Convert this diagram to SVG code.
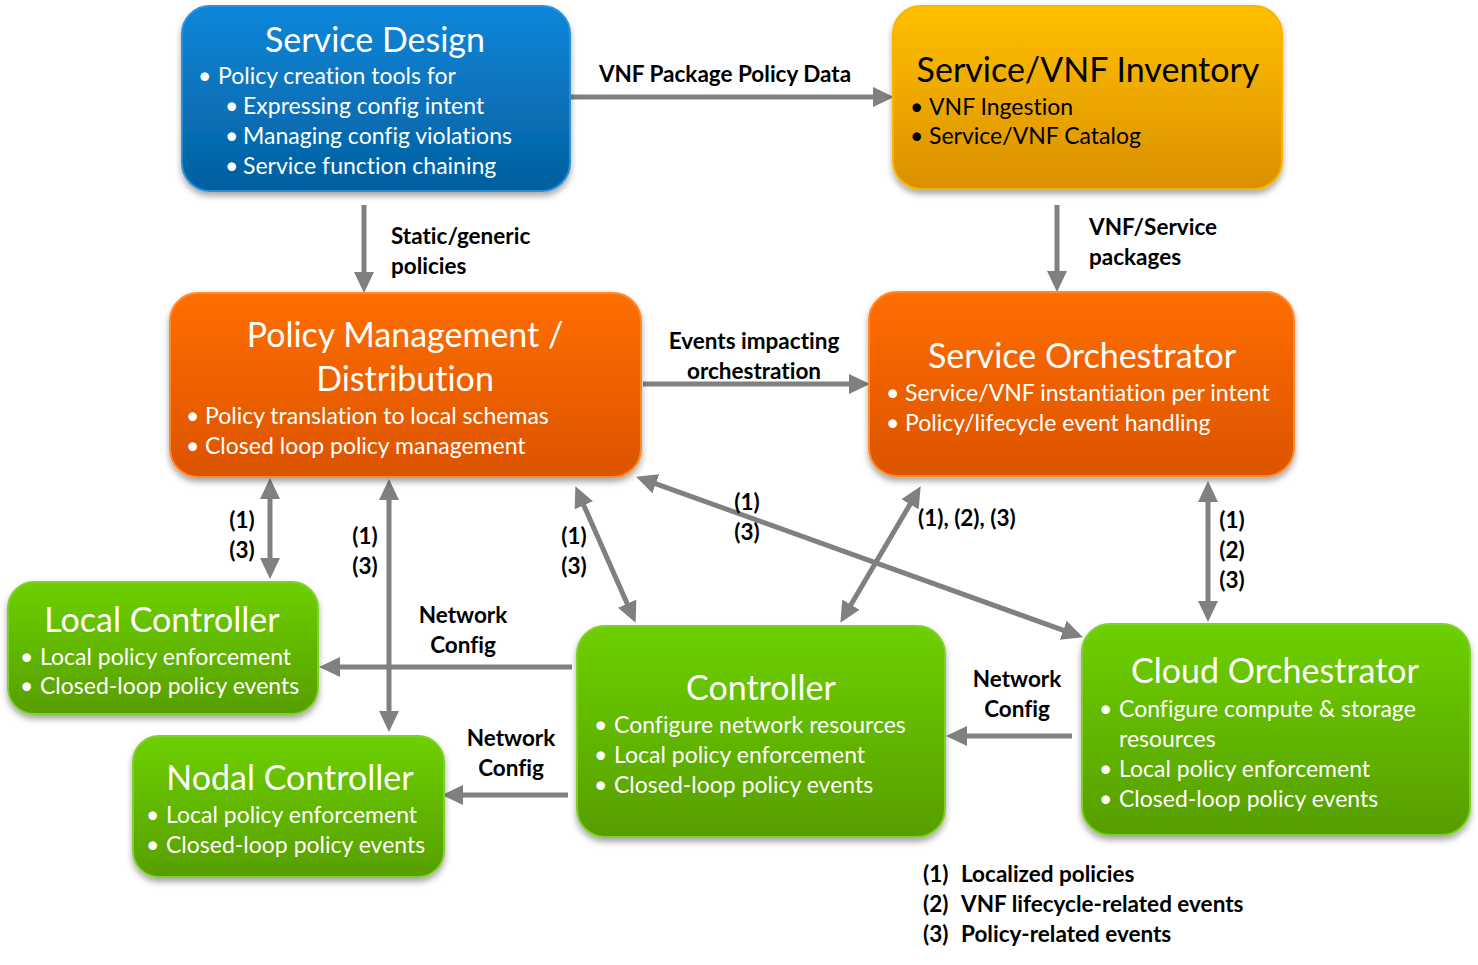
<svg xmlns="http://www.w3.org/2000/svg" width="1478" height="965" viewBox="0 0 1478 965">
<defs>
<linearGradient id="gBlue" x1="0" y1="0" x2="0" y2="1"><stop offset="0" stop-color="#0a86d9"/><stop offset="1" stop-color="#055f9e"/></linearGradient>
<linearGradient id="gGold" x1="0" y1="0" x2="0" y2="1"><stop offset="0" stop-color="#ffc000"/><stop offset="1" stop-color="#da9000"/></linearGradient>
<linearGradient id="gOrange" x1="0" y1="0" x2="0" y2="1"><stop offset="0" stop-color="#ff6e00"/><stop offset="1" stop-color="#dc5300"/></linearGradient>
<linearGradient id="gGreen" x1="0" y1="0" x2="0" y2="1"><stop offset="0" stop-color="#6dd005"/><stop offset="1" stop-color="#579e04"/></linearGradient>
<filter id="shadow" x="-10%" y="-10%" width="120%" height="130%"><feDropShadow dx="0" dy="4" stdDeviation="3" flood-color="#000" flood-opacity="0.35"/></filter>
<marker id="ah" markerUnits="userSpaceOnUse" markerWidth="22" markerHeight="22" refX="10" refY="10" orient="auto-start-reverse" viewBox="0 0 22 20"><path d="M0,0 L21,10 L0,20 z" fill="#808080"/></marker>
<style>
text{font-variant-ligatures:none}
.box{filter:url(#shadow);stroke-width:2}
.blue{fill:url(#gBlue);stroke:#2a90dc}
.gold{fill:url(#gGold);stroke:#f7b500}
.orange{fill:url(#gOrange);stroke:#ff8a2e}
.green{fill:url(#gGreen);stroke:#7fd02a}
.t{font-family:Lato,"Liberation Sans",sans-serif;font-size:34px;fill:#fff;text-anchor:middle}
.b{font-family:Lato,"Liberation Sans",sans-serif;font-size:23px;fill:#fff}
.dk{fill:#000}
.l{font-family:Lato,"Liberation Sans",sans-serif;font-size:22.5px;font-weight:bold;fill:#000}
.c{text-anchor:middle}
.conn{stroke:#808080;stroke-width:5;fill:none}
</style>
</defs>
<rect width="1478" height="965" fill="#fff"/>

<g id="connectors">
<path class="conn" d="M571 97 L883 97" marker-end="url(#ah)"/>
<path class="conn" d="M364 205 L364 282" marker-end="url(#ah)"/>
<path class="conn" d="M1057 205 L1057 281" marker-end="url(#ah)"/>
<path class="conn" d="M643 384 L859 384" marker-end="url(#ah)"/>
<path class="conn" d="M270 489 L270 568" marker-start="url(#ah)" marker-end="url(#ah)"/>
<path class="conn" d="M389 490 L389 721" marker-start="url(#ah)" marker-end="url(#ah)"/>
<path class="conn" d="M579.8 496.2 L631.2 612.8" marker-start="url(#ah)" marker-end="url(#ah)"/>
<path class="conn" d="M646.4 480.4 L1072.6 633.6" marker-start="url(#ah)" marker-end="url(#ah)"/>
<path class="conn" d="M915.1 495.7 L845.9 613.3" marker-start="url(#ah)" marker-end="url(#ah)"/>
<path class="conn" d="M1208 492 L1208 611" marker-start="url(#ah)" marker-end="url(#ah)"/>
<path class="conn" d="M572 667 L330 667" marker-end="url(#ah)"/>
<path class="conn" d="M568 795 L453 795" marker-end="url(#ah)"/>
<path class="conn" d="M1072 736 L957 736" marker-end="url(#ah)"/>
<text class="l c" x="725" y="82">VNF Package Policy Data</text>
<text class="l" x="391" y="244">Static/generic</text>
<text class="l" x="391" y="274">policies</text>
<text class="l" x="1089" y="235">VNF/Service</text>
<text class="l" x="1089" y="265">packages</text>
<text class="l c" x="754" y="349">Events impacting</text>
<text class="l c" x="754" y="379">orchestration</text>
<text class="l c" x="242" y="528">(1)</text>
<text class="l c" x="242" y="558">(3)</text>
<text class="l c" x="365" y="544">(1)</text>
<text class="l c" x="365" y="574">(3)</text>
<text class="l c" x="574" y="544">(1)</text>
<text class="l c" x="574" y="574">(3)</text>
<text class="l c" x="747" y="510">(1)</text>
<text class="l c" x="747" y="540">(3)</text>
<text class="l" x="918" y="526">(1), (2), (3)</text>
<text class="l c" x="1232" y="528">(1)</text>
<text class="l c" x="1232" y="558">(2)</text>
<text class="l c" x="1232" y="588">(3)</text>
<text class="l c" x="463" y="623">Network</text>
<text class="l c" x="463" y="653">Config</text>
<text class="l c" x="511" y="746">Network</text>
<text class="l c" x="511" y="776">Config</text>
<text class="l c" x="1017" y="687">Network</text>
<text class="l c" x="1017" y="717">Config</text>
</g>

<g id="service-design">
<rect class="box blue" x="182" y="6" width="388" height="185" rx="28"/>
<text class="t" x="375" y="52">Service Design</text>
<text class="b" x="198" y="84">•</text><text class="b" x="218" y="84">Policy creation tools for</text>
<text class="b" x="225" y="114">•</text><text class="b" x="243" y="114">Expressing config intent</text>
<text class="b" x="225" y="144">•</text><text class="b" x="243" y="144">Managing config violations</text>
<text class="b" x="225" y="174">•</text><text class="b" x="243" y="174">Service function chaining</text>
</g>

<g id="inventory">
<rect class="box gold" x="893" y="6" width="389" height="183" rx="28"/>
<text class="t dk" x="1088" y="82">Service/VNF Inventory</text>
<text class="b dk" x="910" y="115">•</text><text class="b dk" x="929" y="115">VNF Ingestion</text>
<text class="b dk" x="910" y="144">•</text><text class="b dk" x="929" y="144">Service/VNF Catalog</text>
</g>

<g id="policy-management">
<rect class="box orange" x="170" y="293" width="471" height="184" rx="28"/>
<text class="t" x="405" y="347">Policy Management /</text>
<text class="t" x="405" y="391">Distribution</text>
<text class="b" x="186" y="424">•</text><text class="b" x="205" y="424">Policy translation to local schemas</text>
<text class="b" x="186" y="454">•</text><text class="b" x="205" y="454">Closed loop policy management</text>
</g>

<g id="service-orchestrator">
<rect class="box orange" x="869" y="292" width="425" height="184" rx="28"/>
<text class="t" x="1082" y="368">Service Orchestrator</text>
<text class="b" x="886" y="401">•</text><text class="b" x="905" y="401">Service/VNF instantiation per intent</text>
<text class="b" x="886" y="431">•</text><text class="b" x="905" y="431">Policy/lifecycle event handling</text>
</g>

<g id="local-controller">
<rect class="box green" x="8" y="582" width="310" height="132" rx="26"/>
<text class="t" x="162" y="632">Local Controller</text>
<text class="b" x="20" y="665">•</text><text class="b" x="40" y="665">Local policy enforcement</text>
<text class="b" x="20" y="694">•</text><text class="b" x="40" y="694">Closed-loop policy events</text>
</g>

<g id="nodal-controller">
<rect class="box green" x="133" y="736" width="311" height="141" rx="26"/>
<text class="t" x="290" y="790">Nodal Controller</text>
<text class="b" x="146" y="823">•</text><text class="b" x="166" y="823">Local policy enforcement</text>
<text class="b" x="146" y="853">•</text><text class="b" x="166" y="853">Closed-loop policy events</text>
</g>

<g id="controller">
<rect class="box green" x="577" y="626" width="368" height="211" rx="28"/>
<text class="t" x="761" y="700">Controller</text>
<text class="b" x="594" y="733">•</text><text class="b" x="614" y="733">Configure network resources</text>
<text class="b" x="594" y="763">•</text><text class="b" x="614" y="763">Local policy enforcement</text>
<text class="b" x="594" y="793">•</text><text class="b" x="614" y="793">Closed-loop policy events</text>
</g>

<g id="cloud-orchestrator">
<rect class="box green" x="1082" y="624" width="388" height="211" rx="28"/>
<text class="t" x="1275" y="683">Cloud Orchestrator</text>
<text class="b" x="1099" y="717">•</text><text class="b" x="1119" y="717">Configure compute &amp; storage</text>
<text class="b" x="1119" y="747">resources</text>
<text class="b" x="1099" y="777">•</text><text class="b" x="1119" y="777">Local policy enforcement</text>
<text class="b" x="1099" y="807">•</text><text class="b" x="1119" y="807">Closed-loop policy events</text>
</g>

<g id="legend">
<text class="l" x="923" y="882">(1)</text><text class="l" x="961" y="882">Localized policies</text>
<text class="l" x="923" y="912">(2)</text><text class="l" x="961" y="912">VNF lifecycle-related events</text>
<text class="l" x="923" y="942">(3)</text><text class="l" x="961" y="942">Policy-related events</text>
</g>
</svg>
